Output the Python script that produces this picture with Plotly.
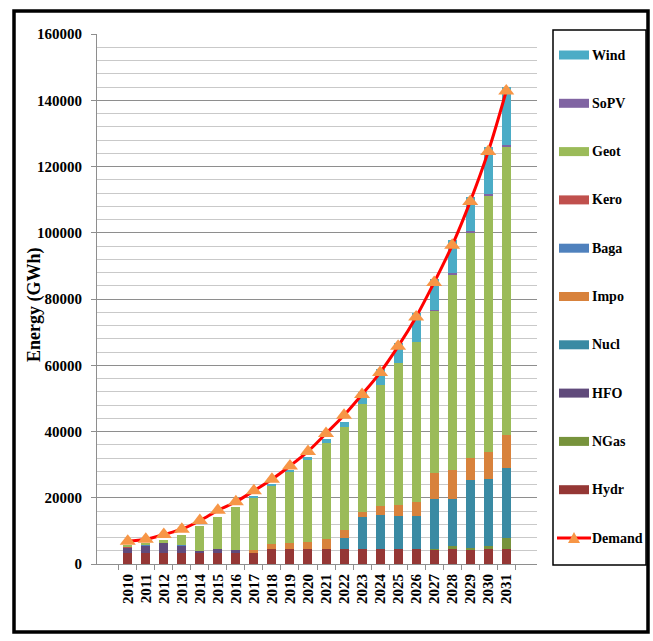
import plotly.graph_objects as go

# ---- data (GWh) -------------------------------------------------------
years = [str(y) for y in range(2010, 2032)]

hydr = [3200, 3200, 3200, 3200, 3500, 3400, 3200, 3400, 4400, 4400, 4400,
        4400, 4400, 4400, 4400, 4400, 4400, 4400, 4400, 4400, 4400, 4400]
ngas = [0, 0, 0, 0, 0, 0, 0, 0, 0, 0, 0,
        0, 0, 0, 0, 0, 0, 200, 1000, 500, 1100, 3400]
hfo = [1700, 2400, 3300, 2400, 300, 1200, 900, 200, 0, 0, 0,
       0, 0, 0, 0, 0, 0, 0, 0, 0, 0, 0]
nucl = [0, 0, 0, 0, 0, 0, 0, 0, 0, 0, 0,
        0, 3500, 9900, 10400, 10000, 10100, 14900, 14200, 20400, 20300, 21100]
impo = [0, 0, 0, 0, 0, 0, 0, 600, 1500, 2000, 2300,
        3000, 2400, 1500, 2700, 3400, 4300, 8100, 8800, 6600, 7900, 10000]
baga = [200, 200, 100, 100, 0, 0, 0, 0, 0, 0, 0,
        0, 0, 0, 0, 0, 0, 0, 0, 0, 0, 0]
kero = [100, 100, 0, 0, 0, 0, 0, 0, 0, 0, 0,
        0, 0, 0, 0, 0, 0, 0, 0, 0, 0, 0]
geot = [300, 300, 500, 3200, 7600, 9700, 13100, 16000, 17900, 21500, 24700,
        29000, 31000, 32400, 36500, 43000, 48200, 48800, 58900, 68100, 77600, 87000]
sopv = [0, 0, 0, 0, 0, 0, 0, 0, 0, 0, 0,
        0, 0, 0, 0, 0, 0, 400, 400, 400, 400, 500]
wind = [0, 0, 0, 0, 0, 0, 0, 200, 300, 500, 900,
        1200, 1600, 3600, 4800, 5800, 8800, 9200, 10100, 10400, 14300, 17600]
demand = [6900, 7500, 8900, 10500, 13100, 16200, 18800, 22100, 25600, 29600, 34000,
          39400, 44900, 51200, 57800, 65700, 74600, 85000, 96200, 109400, 124500, 142800]

# stacking order, bottom to top
series = [
    ("Hydr", hydr, "#953735"),
    ("NGas", ngas, "#77933C"),
    ("HFO", hfo, "#604A7B"),
    ("Nucl", nucl, "#3A8AA3"),
    ("Impo", impo, "#D8823C"),
    ("Baga", baga, "#4F81BD"),
    ("Kero", kero, "#C0504D"),
    ("Geot", geot, "#9BBB59"),
    ("SoPV", sopv, "#8064A2"),
    ("Wind", wind, "#4BACC6"),
]
demand_line = "#FF0000"
demand_marker = "#F79646"

SERIF = "Liberation Serif, Times New Roman, serif"

# plot-area geometry in pixels
L, R, T, B = 97, 537, 34, 564
W, H = R - L, B - T


def px(x):
    return (x - L) / W


def py(y):
    return (B - y) / H


fig = go.Figure()
for name, vals, color in series:
    fig.add_bar(x=years, y=vals, name=name, showlegend=False,
                marker=dict(color=color, line=dict(width=0)))
fig.add_scatter(x=years, y=demand, name="Demand", mode="lines+markers",
                showlegend=False,
                line=dict(color=demand_line, width=3, shape="spline"),
                marker=dict(symbol="triangle-up", size=14, color=demand_marker))

shapes = []
annotations = []

# outer frame
shapes.append(dict(type="rect", xref="paper", yref="paper",
                   x0=px(14), x1=px(648), y0=py(632), y1=py(11),
                   line=dict(color="black", width=3.5), layer="above"))
# legend box
shapes.append(dict(type="rect", xref="paper", yref="paper",
                   x0=px(553), x1=px(646), y0=py(565), y1=py(30),
                   line=dict(color="black", width=1.5), fillcolor="white",
                   layer="above"))

# legend entries, top to bottom
legend_items = [s for s in reversed(series)]
step = 48.3
for i, (name, _, color) in enumerate(legend_items):
    yc = 55 + step * i
    shapes.append(dict(type="rect", xref="paper", yref="paper",
                       x0=px(559), x1=px(589), y0=py(yc + 4.5), y1=py(yc - 4.5),
                       line=dict(width=0), fillcolor=color, layer="above"))
    annotations.append(dict(xref="paper", yref="paper", x=px(590), y=py(yc),
                            xanchor="left", yanchor="middle", showarrow=False,
                            text=name,
                            font=dict(family=SERIF, size=14, color="black",
                                      weight="bold")))
yc = 55 + step * len(legend_items)
shapes.append(dict(type="line", xref="paper", yref="paper",
                   x0=px(557), x1=px(591), y0=py(yc), y1=py(yc),
                   line=dict(color=demand_line, width=3), layer="above"))
shapes.append(dict(type="path", xref="paper", yref="paper",
                   path=f"M {px(568)},{py(yc + 5)} L {px(580)},{py(yc + 5)} "
                        f"L {px(574)},{py(yc - 6)} Z",
                   line=dict(width=0), fillcolor=demand_marker, layer="above"))
annotations.append(dict(xref="paper", yref="paper", x=px(590), y=py(yc),
                        xanchor="left", yanchor="middle", showarrow=False,
                        text="Demand",
                        font=dict(family=SERIF, size=14, color="black",
                                  weight="bold")))

# y-axis title
annotations.append(dict(xref="paper", yref="paper", x=px(34), y=py(305),
                        xanchor="center", yanchor="middle", showarrow=False,
                        textangle=-90, text="Energy (GWh)",
                        font=dict(family=SERIF, size=18, color="black",
                                  weight="bold")))

fig.update_layout(
    width=653, height=641,
    margin=dict(l=L, r=653 - R, t=T, b=641 - B, autoexpand=False),
    barmode="stack", bargap=0.5,
    plot_bgcolor="white", paper_bgcolor="white",
    font=dict(family=SERIF, color="black"),
    showlegend=False,
    shapes=shapes, annotations=annotations,
)
fig.update_yaxes(
    range=[0, 160000], tick0=0, dtick=20000, tickformat="d",
    showgrid=True, gridcolor="#8E8E8E", gridwidth=1,
    minor=dict(dtick=4000, showgrid=True, gridcolor="#C9C9C9", gridwidth=1),
    ticks="outside", ticklen=5, tickcolor="#8E8E8E",
    showline=True, linecolor="#8E8E8E", linewidth=1, zeroline=False,
    ticklabelstandoff=6,
    tickfont=dict(family=SERIF, size=15, weight="bold", color="black"),
)
fig.update_xaxes(
    type="category", tickangle=-90, tickson="boundaries",
    ticks="outside", ticklen=5, tickcolor="#8E8E8E",
    showline=True, linecolor="#8E8E8E", linewidth=1, showgrid=False,
    ticklabelstandoff=3,
    tickfont=dict(family=SERIF, size=15, weight="bold", color="black"),
)

fig.write_html("out.html")
